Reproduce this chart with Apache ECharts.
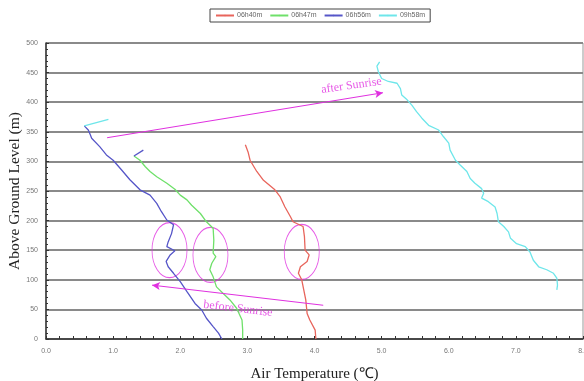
<!DOCTYPE html>
<html><head><meta charset="utf-8">
<script src="https://cdn.jsdelivr.net/npm/echarts@6/dist/echarts.min.js"></script>
<style>html,body{margin:0;padding:0;background:#fff}#c{width:584px;height:381px}</style>
</head><body><div id="c"></div>
<script>
// [temperature (°C), altitude (m)]
const s0640 = [[2.97,328],[3.01,316],[3.04,302],[3.14,283],[3.24,268],[3.41,252],[3.49,240],[3.56,223],[3.64,207],[3.68,198],[3.83,190],[3.85,173],[3.86,150],[3.92,142],[3.89,131],[3.79,122],[3.76,111],[3.81,100],[3.84,83],[3.87,66],[3.89,43],[3.93,32],[4.01,15],[4.02,0]];
const s0647 = [[1.31,309],[1.40,302],[1.48,291],[1.55,283],[1.65,274],[1.80,263],[1.92,253],[2.00,243],[2.10,235],[2.17,226],[2.30,212],[2.39,198],[2.49,187],[2.50,167],[2.49,145],[2.53,139],[2.47,128],[2.44,117],[2.49,105],[2.54,88],[2.64,77],[2.74,66],[2.84,52],[2.92,32],[2.93,15],[2.93,0]];
const s0656 = [[0.57,360],[0.63,353],[0.66,345],[0.68,339],[0.80,325],[0.90,311],[1.00,302],[1.13,285],[1.25,269],[1.40,252],[1.55,243],[1.65,229],[1.72,215],[1.80,201],[1.90,193],[1.87,178],[1.82,164],[1.80,156],[1.92,149],[1.85,142],[1.79,131],[1.82,122],[1.90,111],[2.00,97],[2.10,80],[2.22,60],[2.32,49],[2.39,35],[2.49,21],[2.57,10],[2.62,0]];
const s0958 = [[4.97,468],[4.93,461],[4.95,452],[5.00,440],[5.10,435],[5.23,432],[5.28,423],[5.30,412],[5.38,404],[5.45,395],[5.52,384],[5.60,373],[5.70,361],[5.85,353],[5.92,342],[6.00,331],[6.02,319],[6.10,302],[6.17,294],[6.27,283],[6.32,271],[6.39,263],[6.49,254],[6.52,246],[6.49,238],[6.59,232],[6.69,223],[6.72,212],[6.74,198],[6.82,190],[6.89,181],[6.92,170],[7.01,161],[7.14,156],[7.21,147],[7.26,133],[7.34,122],[7.46,117],[7.56,111],[7.61,103],[7.62,91],[7.61,83]];
// small stray strokes at the top of the profiles
const strayBlue = [[1.31,309],[1.45,319]];
const strayCyan = [[0.57,360],[0.93,371]];
const seriesNames = ['06h40m','06h47m','06h56m','09h58m'];
const colors = ['#e8655c','#6fe06a','#5656c8','#6ee6ea'];
const xTicks = [0,1,2,3,4,5,6,7,8];
const yTicks = [0,50,100,150,200,250,300,350,400,450,500];
// annotations
const ellipses = [[1.84,150],[2.45,142],[3.81,147]];
const afterArrow = [[0.91,340],[5.02,416]];
const beforeArrow = [[4.13,57],[1.58,91]];
const notes = [{text:'after Sunrise', pos:[4.55,428], rot:8},{text:'before Sunrise', pos:[2.86,51], rot:-7}];

const pink = '#e030e0';
const chart = echarts.init(document.getElementById('c'));
const lineSeries = [s0640,s0647,s0656,s0958].map((d,i)=>({
  name: seriesNames[i], type:'line', data:d, symbol:'none', smooth:false,
  lineStyle:{width:1.3,color:colors[i]}, itemStyle:{color:colors[i]}
}));
chart.setOption({
  backgroundColor:'#fff',
  animation:false,
  color:colors,
  legend:{
    data:seriesNames, left:210, top:9, itemWidth:18, itemHeight:2, itemGap:7,
    borderColor:'#444', borderWidth:1, padding:[3,5,3,5],
    textStyle:{fontSize:7,color:'#666',fontFamily:'Liberation Sans',padding:[0,0,0,-2]}
  },
  grid:{left:46,right:1,top:43,bottom:42,show:true,borderColor:'#999',borderWidth:1,
        containLabel:false,outerBoundsMode:'none'},
  xAxis:{
    type:'value', min:xTicks[0], max:xTicks[xTicks.length-1], interval:1,
    name:'Air Temperature (℃)', nameLocation:'middle', nameGap:28,
    nameTextStyle:{fontFamily:'Liberation Serif',fontSize:15,color:'#222'},
    axisLine:{lineStyle:{color:'#333',width:1.5}},
    axisTick:{show:true,inside:true,length:3,lineStyle:{color:'#333'}},
    minorTick:{show:true,splitNumber:5,length:3,lineStyle:{color:'#333'}},
    axisLabel:{fontSize:7,color:'#777',margin:9,formatter:v=>v.toFixed(1),fontFamily:'Liberation Sans'},
    splitLine:{show:false}
  },
  yAxis:{
    type:'value', min:yTicks[0], max:yTicks[yTicks.length-1], interval:50,
    name:'Above Ground Level (m)', nameLocation:'middle', nameGap:23, nameMoveOverlap:false,
    nameTextStyle:{fontFamily:'Liberation Serif',fontSize:15.5,color:'#222'},
    axisLine:{show:true,lineStyle:{color:'#333',width:1.5}},
    axisTick:{show:true,inside:true,length:3,lineStyle:{color:'#333'}},
    minorTick:{show:true,splitNumber:5,length:2,lineStyle:{color:'#333'}},
    axisLabel:{fontSize:7,color:'#777',margin:8,fontFamily:'Liberation Sans'},
    splitLine:{show:true,lineStyle:{color:'#8a8a8a',width:2}}
  },
  series: lineSeries.concat([
    {type:'line',data:strayBlue,symbol:'none',lineStyle:{width:1.3,color:colors[2]},silent:true},
    {type:'line',data:strayCyan,symbol:'none',lineStyle:{width:1.3,color:colors[3]},silent:true},
    {type:'scatter',data:ellipses,symbol:'circle',symbolSize:[35,55],silent:true,
     itemStyle:{color:'rgba(0,0,0,0)',borderColor:pink,borderWidth:1},
     markLine:{silent:true,symbol:['none','arrow'],symbolSize:[6,8],animation:false,
       lineStyle:{color:pink,width:1,type:'solid'},label:{show:false},
       data:[
         [{coord:afterArrow[0]},{coord:afterArrow[1]}],
         [{coord:beforeArrow[0]},{coord:beforeArrow[1]}]
       ]}
    },
    {type:'scatter',data:notes.map(n=>({value:n.pos,label:{rotate:n.rot}})),symbolSize:0,silent:true,
     label:{show:true,position:'inside',formatter:p=>notes[p.dataIndex].text,
       fontFamily:'Liberation Serif',fontSize:12,color:pink}}
  ])
});
</script></body></html>
